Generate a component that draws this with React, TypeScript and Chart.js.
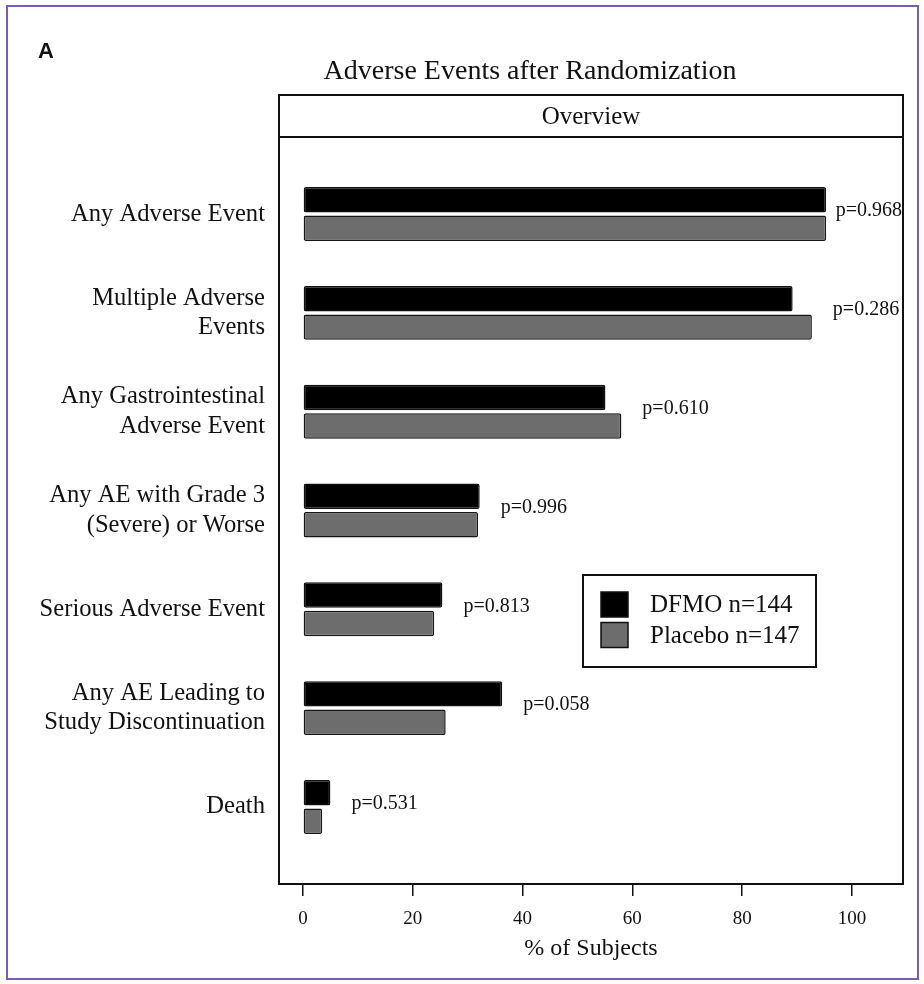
import React, { useEffect, useRef } from 'react';
import { Chart, registerables } from 'chart.js';

Chart.register(...registerables);

// ---- data ----
const categories: string[][] = [
  ['Any Adverse Event'],
  ['Multiple Adverse', 'Events'],
  ['Any Gastrointestinal', 'Adverse Event'],
  ['Any AE with Grade 3', '(Severe) or Worse'],
  ['Serious Adverse Event'],
  ['Any AE Leading to', 'Study Discontinuation'],
  ['Death'],
];
const dfmoValues = [95.3, 89.2, 55.1, 32.2, 25.4, 36.3, 5.0];
const placeboValues = [95.3, 92.7, 58.0, 31.9, 23.9, 26.0, 3.5];
const pValues = ['p=0.968', 'p=0.286', 'p=0.610', 'p=0.996', 'p=0.813', 'p=0.058', 'p=0.531'];
const xTicks = [0, 20, 40, 60, 80, 100];
const seriesLabels = ['DFMO n=144', 'Placebo n=147'];
const panelLetter = 'A';
const chartTitle = 'Adverse Events after Randomization';
const headerText = 'Overview';
const xAxisTitle = '% of Subjects';

const SERIF = '"Liberation Serif", "Times New Roman", serif';

const decorPlugin = {
  id: 'decor',
  beforeDraw(chart: any) {
    const ctx = chart.ctx;
    ctx.save();
    ctx.fillStyle = '#ffffff';
    ctx.fillRect(0, 0, chart.width, chart.height);
    ctx.restore();
  },
  afterDraw(chart: any) {
    const ctx = chart.ctx;
    const { left, right, top, bottom } = chart.chartArea;
    const xs = chart.scales.x;
    const ys = chart.scales.y;
    ctx.save();

    // outer purple frame
    ctx.strokeStyle = '#7a5cb6';
    ctx.lineWidth = 2;
    ctx.strokeRect(7, 6, chart.width - 13, chart.height - 11);

    // panel letter
    ctx.fillStyle = '#111';
    ctx.font = 'bold 22px "Liberation Sans", Arial, sans-serif';
    ctx.textAlign = 'left';
    ctx.textBaseline = 'middle';
    ctx.fillText(panelLetter, 38, 52);

    // title
    ctx.font = '28px ' + SERIF;
    ctx.textAlign = 'center';
    ctx.fillText(chartTitle, 530, 72);

    // plot box + header
    const headerTop = top - 42;
    ctx.strokeStyle = '#111';
    ctx.lineWidth = 2;
    ctx.strokeRect(left, headerTop, right - left, bottom - headerTop);
    ctx.beginPath();
    ctx.moveTo(left, top);
    ctx.lineTo(right, top);
    ctx.stroke();
    ctx.font = '25px ' + SERIF;
    ctx.fillText(headerText, (left + right) / 2, (headerTop + top) / 2 + 1);

    // p-values
    ctx.font = '20px ' + SERIF;
    ctx.textAlign = 'left';
    pValues.forEach((p, i) => {
      const maxV = Math.max(dfmoValues[i], placeboValues[i]);
      const w = ctx.measureText(p).width;
      let px = xs.getPixelForValue(maxV) + 21;
      px = Math.min(px, right - w - 1);
      const py = ys.getPixelForValue(i) - 3;
      ctx.fillText(p, px, py);
    });

    // legend
    const lx = left + 304;
    const ly = 575;
    const lw = 233;
    const lh = 92;
    ctx.lineWidth = 2;
    ctx.strokeRect(lx, ly, lw, lh);
    ctx.font = '25px ' + SERIF;
    chart.data.datasets.forEach((ds: any, i: number) => {
      const sy = ly + 17 + i * 30.5;
      ctx.fillStyle = ds.backgroundColor;
      ctx.fillRect(lx + 18, sy, 27, 25);
      ctx.strokeStyle = '#111';
      ctx.lineWidth = 1.5;
      ctx.strokeRect(lx + 18, sy, 27, 25);
      ctx.fillStyle = '#111';
      ctx.fillText(ds.label, lx + 67, sy + 13.5);
    });

    ctx.restore();
  },
};

export default function App() {
  const canvasRef = useRef<HTMLCanvasElement | null>(null);

  useEffect(() => {
    if (!canvasRef.current) return;
    const chart = new Chart(canvasRef.current, {
      type: 'bar',
      data: {
        datasets: [
          {
            label: seriesLabels[0],
            data: dfmoValues.map((v, i) => ({ x: v, y: i })),
            backgroundColor: '#000000',
            borderColor: '#111111',
            borderWidth: 1.5,
            borderSkipped: false,
            borderRadius: 2,
          },
          {
            label: seriesLabels[1],
            data: placeboValues.map((v, i) => ({ x: v, y: i })),
            backgroundColor: '#6d6d6d',
            borderColor: '#161616',
            borderWidth: 1.5,
            borderSkipped: false,
            borderRadius: 2,
          },
        ] as any,
      },
      options: {
        indexAxis: 'y',
        responsive: false,
        animation: false,
        events: [],
        categoryPercentage: 0.5765,
        barPercentage: 0.895,
        layout: { padding: { top: 137, left: 0, right: 21, bottom: 0 } },
        plugins: {
          legend: { display: false },
          tooltip: { enabled: false },
          title: { display: false },
        },
        scales: {
          x: {
            type: 'linear',
            position: 'bottom',
            min: -4.36,
            max: 109.3,
            afterBuildTicks: (scale: any) => {
              scale.ticks = xTicks.map((v) => ({ value: v }));
            },
            afterFit: (scale: any) => {
              scale.height = 100;
            },
            grid: {
              display: true,
              drawOnChartArea: false,
              drawTicks: true,
              tickLength: 12,
              color: '#111',
              lineWidth: 1.5,
            },
            border: { display: false },
            ticks: {
              color: '#111',
              padding: 12,
              font: { family: SERIF, size: 19 },
              maxRotation: 0,
            },
            title: {
              display: true,
              text: xAxisTitle,
              color: '#111',
              font: { family: SERIF, size: 24 },
              padding: { top: 0, bottom: 21 },
            },
          },
          y: {
            type: 'linear',
            position: 'left',
            reverse: true,
            offset: false,
            min: -0.78,
            max: 6.78,
            afterBuildTicks: (scale: any) => {
              scale.ticks = categories.map((_, i) => ({ value: i }));
            },
            afterFit: (scale: any) => {
              scale.width = 279;
            },
            grid: { display: false, drawTicks: false, offset: false },
            border: { display: false },
            ticks: {
              color: '#111',
              padding: 14,
              font: { family: SERIF, size: 24.6, lineHeight: 1.2 },
              callback: (v: any) => categories[Number(v)] ?? '',
            },
          },
        },
      } as any,
      plugins: [decorPlugin],
    });
    return () => chart.destroy();
  }, []);

  return (
    <div style={{ position: 'absolute', left: 0, top: 0, width: 924, height: 984, background: '#fff' }}>
      <canvas ref={canvasRef} width={924} height={984} style={{ display: 'block' }} />
    </div>
  );
}
